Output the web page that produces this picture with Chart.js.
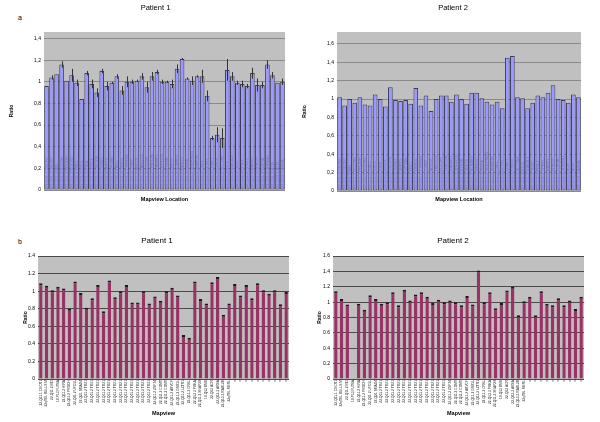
<!DOCTYPE html>
<html>
<head>
<meta charset="utf-8">
<script src="https://cdn.jsdelivr.net/npm/chart.js@4.4.1/dist/chart.umd.min.js"></script>
<style>
  body { margin: 0; background: #fff; font-family: "Liberation Sans", Arial, sans-serif; }
  #pagina { position: relative; width: 600px; height: 422px; }
  .caja { position: absolute; }
  .letra { position: absolute; font-size: 7px; color: #000; }
</style>
</head>
<body>
<div id="pagina">
  <div class="letra" style="left:18px;top:14px">a</div>
  <div class="letra" style="left:18px;top:238px">b</div>
  <div class="caja" style="left:0;top:0"><canvas id="a1" width="300" height="205"></canvas></div>
  <div class="caja" style="left:300px;top:0"><canvas id="a2" width="300" height="205"></canvas></div>
  <div class="caja" style="left:0;top:212px"><canvas id="b1" width="300" height="210"></canvas></div>
  <div class="caja" style="left:300px;top:212px"><canvas id="b2" width="300" height="210"></canvas></div>
</div>
<script>
// Ubicaciones del panel a (48 sondas)
const aLabels = [
  "22-Q11.1 CECR1", "22-Q11.1 CECR7", "22-Q11.2 BID", "22-Q11.2 DGCR6", "22-Q11.2 PRODH", "22-Q11.2 DGCR2",
  "22-Q11.2 TSK1", "22-Q11.2 GSCL", "22-Q11.2 HIRA", "22-Q11.2 UFD1L", "22-Q11.2 CDC45L", "22-Q11.2 CLDN5",
  "22-Q11.2 SEPT5", "22-Q11.2 GP1BB", "22-Q11.2 TBX1", "22-Q11.2 GNB1L", "22-Q11.2 TXNRD2", "22-Q11.2 COMT",
  "22-Q11.2 ARVCF", "22-Q11.2 TANGO2", "22-Q11.2 DGCR8", "22-Q11.2 TRMT2A", "22-Q11.2 RANBP1", "22-Q11.2 ZDHHC8",
  "22-Q11.2 RTN4R", "22-Q11.2 ZNF74", "22-Q11.2 SCARF2", "22-Q11.2 MED15", "22-Q11.2 PI4KA", "22-Q11.2 SERPIND1",
  "22-Q11.2 SNAP29", "22-Q11.2 CRKL", "22-Q11.2 LZTR1", "22-Q11.2 THAP7", "22-Q11.2 P2RX6", "22-Q11.2 SLC7A4",
  "22-Q11.2 HIC2", "22-Q11.2 UBE2L3", "22-Q11.2 YDJC", "22-Q11.2 PPIL2", "22-Q11.2 YPEL1", "22-Q11.2 MAPK1",
  "22-Q11.2 PPM1F", "22-Q11.2 TOP3B", "22-Q11.2 VPREB1", "22-Q11.2 BCR", "22-Q13.3 ACR", "22-Q13.3 ARSA"
];

// Ubicaciones del panel b (44 sondas)
const bLabels = [
  "22-Q11.1 CECR1", "22qTEL BULLS M", "22-Q11.2 BID", "19-P13 FUT6A", "22-Q11.2 HIRA", "22-Q11.2 PRODH",
  "22-Q11.2 UFD1L", "18-Q21 SMAD4", "22-Q11.2 TBX1", "22-Q11.2 TBX1", "22-Q11.2 TBX1", "22-Q11.2 TBX1",
  "22-Q11.2 TBX1", "22-Q11.2 TBX1", "22-Q11.2 TBX1", "22-Q11.2 TBX1", "22-Q11.2 TBX1", "22-Q11.2 TBX1",
  "22-Q11.2 TBX1", "22-Q11.2 TBX1", "22-Q11.2 ZNF74", "22-Q11.2 COMT", "22-Q11.2 COMT", "22-Q11.2 ARVCF",
  "22-Q11.2 GNB1L", "22-Q11.2 LZTR1", "22-Q11.2 CRKL", "22-Q13.3 PI4KA", "22-Q11.2 SNAP29", "19-Q13 BMS",
  "22-Q13 ACR", "22-Q13.3 ARSA", "22-Q13.3 RABL2B", "22qTEL MERL",
  "x", "x", "x", "x", "x", "x", "x", "x", "x", "x"
];

// Panel a, paciente 1: ratio y error
const a1Values = [0.96, 1.04, 1.07, 1.16, 1.01, 1.06, 0.99, 0.84, 1.08, 0.98,
  0.90, 1.10, 0.96, 0.99, 1.05, 0.92, 1.00, 1.00, 1.01, 1.05,
  0.95, 1.05, 1.09, 1.00, 1.00, 0.98, 1.12, 1.21, 1.03, 1.01,
  1.05, 1.05, 0.87, 0.48, 0.51, 0.48, 1.11, 1.05, 0.99, 0.98,
  0.96, 1.08, 0.97, 0.97, 1.16, 1.06, 0.99, 1.00];
const a1Errors = [0, 0.02, 0, 0.03, 0, 0.06, 0.03, 0, 0.02, 0.04,
  0.04, 0.02, 0.04, 0.01, 0.02, 0.04, 0.05, 0.02, 0.01, 0.03,
  0.05, 0.04, 0.02, 0.02, 0.01, 0.04, 0.04, 0.01, 0.01, 0.04,
  0.01, 0.06, 0.05, 0.02, 0.07, 0.09, 0.10, 0.04, 0.02, 0.03,
  0.02, 0.05, 0.06, 0.03, 0.04, 0.03, 0, 0.03];

// Panel a, paciente 2
const a2Values = [1.02, 0.93, 1.00, 0.96, 1.02, 0.94, 0.93, 1.05, 1.00, 0.92,
  1.13, 0.99, 0.98, 0.99, 0.95, 1.12, 0.93, 1.04, 0.87, 1.00,
  1.04, 1.04, 0.97, 1.05, 1.00, 0.95, 1.07, 1.07, 1.01, 0.97,
  0.94, 0.97, 0.90, 1.45, 1.47, 1.02, 1.01, 0.90, 0.96, 1.04,
  1.02, 1.07, 1.15, 1.00, 0.99, 0.96, 1.05, 1.02];

// Panel b, paciente 1 y 2
const b1Values = [1.09, 1.06, 1.01, 1.05, 1.03, 0.80, 1.11, 0.98, 0.81, 0.92,
  1.07, 0.77, 1.12, 0.93, 1.00, 1.07, 0.87, 0.87, 1.00, 0.86,
  0.94, 0.89, 1.00, 1.04, 0.95, 0.50, 0.47, 1.11, 0.91, 0.86,
  1.10, 1.16, 0.73, 0.86, 1.08, 0.95, 1.07, 0.92, 1.09, 1.01,
  0.97, 1.01, 0.85, 0.99];
const b2Values = [1.14, 1.04, 0.97, null, 0.98, 0.90, 1.09, 1.04, 0.98, 1.00,
  1.13, 0.96, 1.16, 1.02, 1.10, 1.13, 1.07, 0.99, 1.03, 1.00,
  1.02, 1.00, 0.96, 1.08, 0.97, 1.41, 1.00, 1.13, 0.92, 0.99,
  1.15, 1.20, 0.83, 1.01, 1.07, 0.83, 1.14, 0.98, 0.96, 1.05,
  0.96, 1.02, 0.91, 1.07];

Chart.defaults.font.family = '"Liberation Sans", Arial, sans-serif';
Chart.defaults.color = '#000';

// Fondo gris del área de trazado
const fondoGris = {
  id: 'fondoGris',
  beforeDraw(chart) {
    const { ctx, chartArea: a } = chart;
    ctx.save();
    ctx.fillStyle = '#c0c0c0';
    ctx.fillRect(a.left, a.top, a.right - a.left, a.bottom - a.top);
    ctx.restore();
  }
};

// Barras de error (solo panel a, paciente 1)
const barrasError = {
  id: 'barrasError',
  afterDatasetsDraw(chart, args, opts) {
    const errores = opts.errores;
    if (!errores) return;
    const { ctx } = chart;
    const y = chart.scales.y;
    const valores = chart.data.datasets[0].data;
    ctx.save();
    ctx.strokeStyle = '#333';
    ctx.lineWidth = 1;
    chart.getDatasetMeta(0).data.forEach((bar, i) => {
      if (!errores[i]) return;
      const x = Math.round(bar.x) + 0.5;
      ctx.beginPath();
      ctx.moveTo(x, y.getPixelForValue(valores[i] + errores[i]));
      ctx.lineTo(x, y.getPixelForValue(valores[i] - errores[i]));
      ctx.stroke();
    });
    ctx.restore();
  }
};

// Etiquetas de ubicación dibujadas dentro de las barras (panel a)
const etiquetasInternas = {
  id: 'etiquetasInternas',
  afterDatasetsDraw(chart, args, opts) {
    if (!opts.mostrar) return;
    const { ctx, chartArea: a } = chart;
    ctx.save();
    ctx.font = '4px "Liberation Sans", Arial, sans-serif';
    ctx.fillStyle = 'rgba(50,50,110,0.35)';
    ctx.textAlign = 'left';
    ctx.textBaseline = 'middle';
    chart.getDatasetMeta(0).data.forEach((bar, i) => {
      ctx.save();
      ctx.translate(bar.x, a.bottom - 2);
      ctx.rotate(-Math.PI / 2);
      ctx.fillText(chart.data.labels[i], 0, 0);
      ctx.restore();
    });
    ctx.restore();
  }
};

const conComa = v => String(Math.round(v * 10) / 10).replace('.', ',');
const conPunto = v => String(Math.round(v * 10) / 10);

// Crea cada gráfico de barras con su geometría
function crearGrafico(id, c) {
  return new Chart(document.getElementById(id), {
    type: 'bar',
    data: {
      labels: c.labels,
      datasets: [Object.assign({ data: c.values }, c.estiloBarra)]
    },
    plugins: [fondoGris, barrasError, etiquetasInternas],
    options: {
      responsive: false,
      animation: false,
      layout: { padding: { left: c.padIzq, right: c.padDer, top: 0, bottom: 0 } },
      plugins: {
        legend: { display: false },
        tooltip: { enabled: false },
        title: {
          display: true,
          text: c.titulo,
          font: { size: c.tamTitulo, weight: 'normal' },
          padding: { top: c.tituloArriba, bottom: c.tituloAbajo }
        },
        barrasError: { errores: c.errores },
        etiquetasInternas: { mostrar: c.internas }
      },
      scales: {
        x: {
          grid: { display: false, drawTicks: false },
          border: { display: false },
          ticks: c.internas
            ? { display: false }
            : { autoSkip: false, maxRotation: 90, minRotation: 90, padding: 1, font: { size: 3.3 }, color: '#222' },
          title: {
            display: true,
            text: c.tituloX,
            font: { size: 5.5, weight: 'bold' },
            padding: { top: 0, bottom: c.padTituloX }
          },
          afterFit: s => { s.height = c.altoX; }
        },
        y: {
          min: 0,
          max: c.max,
          grid: { color: c.colorRejilla, drawTicks: false },
          border: { display: false },
          ticks: { stepSize: 0.2, padding: 3, font: { size: 5 }, callback: c.formato },
          afterBuildTicks: s => {
            s.ticks = s.ticks.filter(t => Math.abs(t.value * 5 - Math.round(t.value * 5)) < 1e-6);
          },
          title: {
            display: true,
            text: 'Ratio',
            font: { size: 5, weight: 'bold' },
            padding: { top: c.padRatio, bottom: 0 }
          },
          afterFit: s => { s.width = c.anchoY; }
        }
      }
    }
  });
}

const barraA = {
  backgroundColor: '#9999ff', borderColor: '#3a3a5a', borderWidth: 1,
  borderSkipped: false, barPercentage: 0.92, categoryPercentage: 1
};
const barraB = {
  backgroundColor: '#993366', borderColor: '#1a1a1a',
  borderWidth: { top: 2, left: 0, right: 0, bottom: 0 },
  barPercentage: 0.6, categoryPercentage: 1
};

crearGrafico('a1', {
  labels: aLabels, values: a1Values, errores: a1Errors, internas: true,
  estiloBarra: barraA, titulo: 'Patient 1', tamTitulo: 7.5, tituloArriba: 3, tituloAbajo: 20,
  padIzq: 26, padDer: 15, anchoY: 18, padRatio: -17.5, altoX: 15, padTituloX: 2.5,
  tituloX: 'Mapview Location', max: 1.46, colorRejilla: '#8a8a8a', formato: conComa
});

crearGrafico('a2', {
  labels: aLabels, values: a2Values, errores: null, internas: true,
  estiloBarra: barraA, titulo: 'Patient 2', tamTitulo: 7.5, tituloArriba: 3, tituloAbajo: 20,
  padIzq: 25, padDer: 19, anchoY: 12, padRatio: -23, altoX: 14, padTituloX: 2.5,
  tituloX: 'Mapview Location', max: 1.73, colorRejilla: '#8a8a8a', formato: conComa
});

crearGrafico('b1', {
  labels: bLabels, values: b1Values, errores: null, internas: false,
  estiloBarra: barraB, titulo: 'Patient 1', tamTitulo: 8, tituloArriba: 24, tituloAbajo: 10.4,
  padIzq: 25, padDer: 11, anchoY: 13, padRatio: -2, altoX: 43, padTituloX: 5.5,
  tituloX: 'Mapview', max: 1.4, colorRejilla: '#4a4a4a', formato: conPunto
});

crearGrafico('b2', {
  labels: bLabels, values: b2Values, errores: null, internas: false,
  estiloBarra: barraB, titulo: 'Patient 2', tamTitulo: 8, tituloArriba: 24, tituloAbajo: 10.4,
  padIzq: 22, padDer: 16, anchoY: 11, padRatio: -5, altoX: 43, padTituloX: 5.5,
  tituloX: 'Mapview', max: 1.6, colorRejilla: '#4a4a4a', formato: conPunto
});
</script>
</body>
</html>
